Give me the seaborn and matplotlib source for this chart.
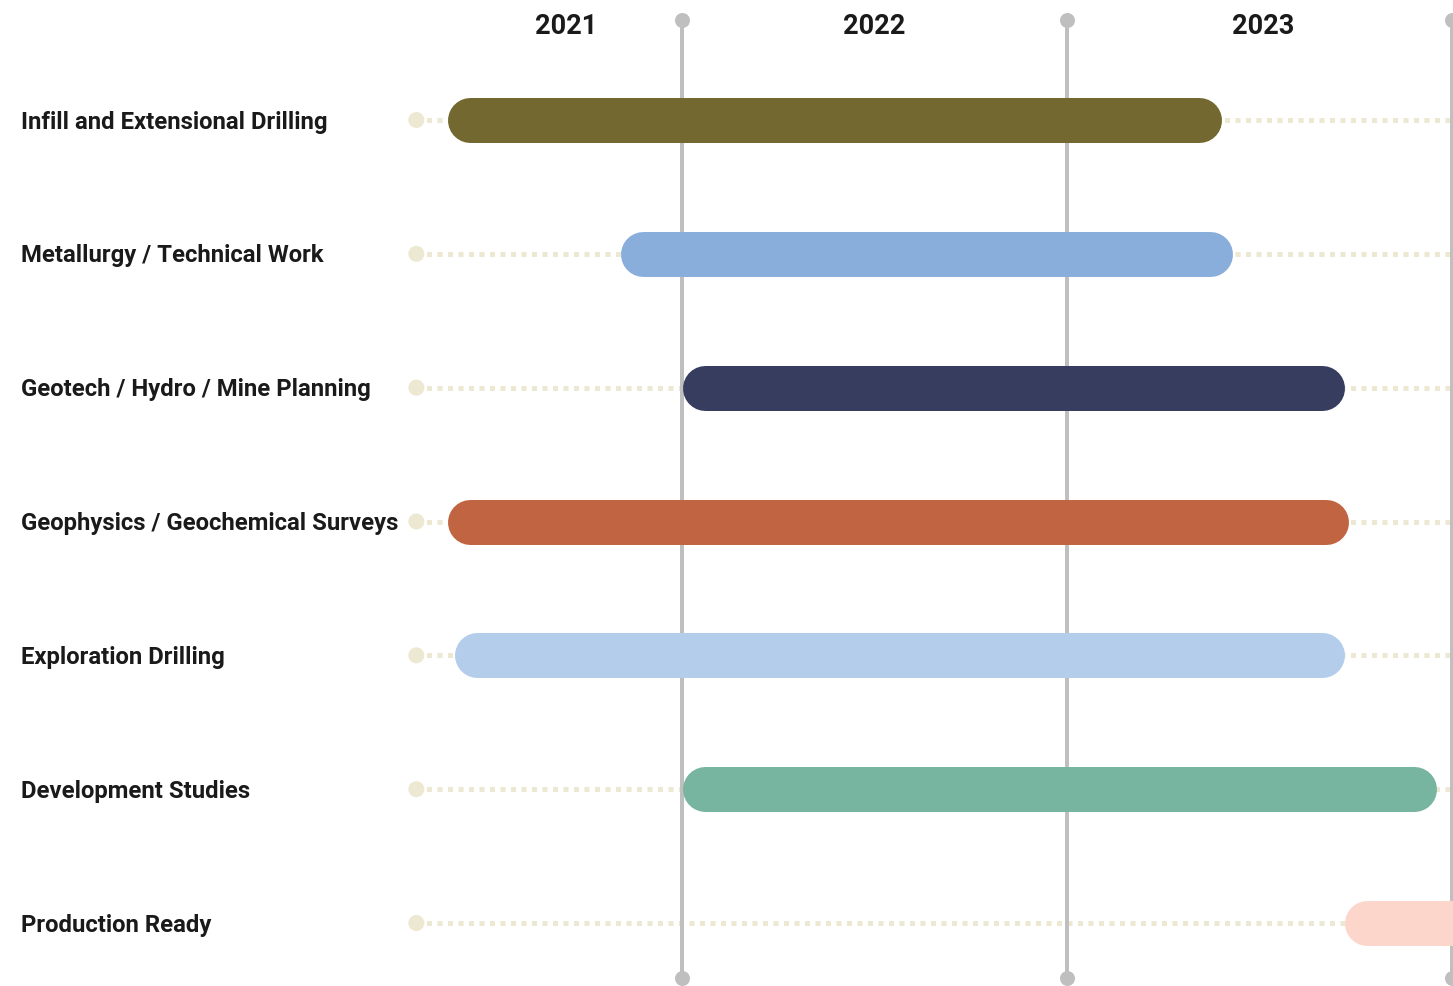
import matplotlib
matplotlib.use("Agg")
import matplotlib.pyplot as plt
import seaborn as sns
import pandas as pd

sns.set_theme(style="white")
plt.rcParams["font.family"] = ["Roboto", "DejaVu Sans"]

# ─── Data ─────────────────────────────────────────────────────────────────────
TASKS = [
    "Infill and Extensional Drilling",
    "Metallurgy / Technical Work",
    "Geotech / Hydro / Mine Planning",
    "Geophysics / Geochemical Surveys",
    "Exploration Drilling",
    "Development Studies",
    "Production Ready",
]
# start / end as fractional years (outer edge of each rounded bar)
STARTS = [2021.39, 2021.84, 2022.00, 2021.39, 2021.41, 2022.00, 2023.72]
ENDS = [2023.40, 2023.43, 2023.72, 2023.73, 2023.72, 2023.96, 2024.20]
COLORS = ["#726830", "#8aaedc", "#373d5e", "#c06441", "#b3cdeb", "#77b5a0", "#fdd6cb"]

YEAR_LINES = [2022.0, 2023.0, 2024.0]
YEAR_LABELS = ["2021", "2022", "2023"]
YEAR_LABEL_POS = [2021.70, 2022.50, 2023.51]

TRACK_START = 2021.31

df = pd.DataFrame({"task": TASKS, "start": STARTS, "end": ENDS, "color": COLORS})
df["row"] = range(len(df))

# ─── Figure ───────────────────────────────────────────────────────────────────
W, H, DPI = 1453, 986, 100
fig = plt.figure(figsize=(W / DPI, H / DPI), dpi=DPI)
ax = fig.add_axes([0, 0, 1, 1])

PX_PER_YEAR = 385.0
X0_PX = 682.0  # pixel of 2022.0
x_min = 2022.0 - X0_PX / PX_PER_YEAR
x_max = 2022.0 + (W - X0_PX) / PX_PER_YEAR
ROW_PITCH = (923 - 120) / 6.0
y_top = -120 / ROW_PITCH
y_bot = (H - 120) / ROW_PITCH
ax.set_xlim(x_min, x_max)
ax.set_ylim(y_bot, y_top)
ax.axis("off")

px_to_pt = 72.0 / DPI
bar_h_px = 45
cap = (bar_h_px / 2) / PX_PER_YEAR  # round cap length in years
dy = 1.0 / ROW_PITCH  # one pixel in row units

TRACK_COLOR = "#ece8d2"
LINE_GRAY = "#bfbfbf"

# dotted tracks + start dots
for _, r in df.iterrows():
    ax.plot([TRACK_START, x_max + 0.1], [r["row"], r["row"]], color=TRACK_COLOR,
            lw=5 * px_to_pt, linestyle=(0, (1.0, 1.1)), solid_capstyle="butt",
            dash_capstyle="butt", zorder=1)
sns.scatterplot(x=[TRACK_START] * len(df), y=df["row"], ax=ax, s=(16 * px_to_pt) ** 2,
                color=TRACK_COLOR, edgecolor="none", zorder=2, legend=False)

# vertical year dividers
for yl in YEAR_LINES:
    ax.plot([yl, yl], [y_top + 20 * dy, y_bot - 8 * dy], color=LINE_GRAY,
            lw=4 * px_to_pt, solid_capstyle="butt", zorder=3)
    ax.plot([yl, yl], [y_top + 20 * dy, y_bot - 8 * dy], "o", color=LINE_GRAY,
            ms=15 * px_to_pt, mec="none", zorder=3)

# rounded task bars
for _, r in df.iterrows():
    ax.plot([r["start"] + cap, r["end"] - cap], [r["row"], r["row"]], color=r["color"],
            lw=bar_h_px * px_to_pt, solid_capstyle="round", zorder=4)

# task labels
for _, r in df.iterrows():
    ax.text(x_min + 21 / PX_PER_YEAR, r["row"] + 2 * dy, r["task"], ha="left", va="center",
            fontsize=17.2, fontweight="bold", color="#1a1a1a")

# year labels
for lab, pos in zip(YEAR_LABELS, YEAR_LABEL_POS):
    ax.text(pos, y_top + 27 * dy, lab, ha="center", va="center",
            fontsize=19.5, fontweight="bold", color="#1a1a1a")

fig.savefig("out.png", dpi=DPI)
